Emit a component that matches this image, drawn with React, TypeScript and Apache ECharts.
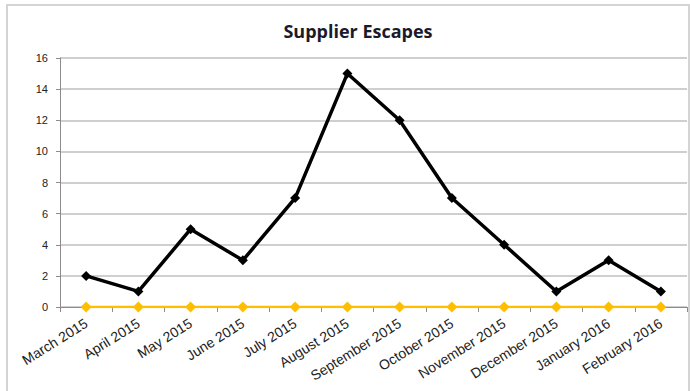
import React, { useEffect, useRef } from "react";
import * as echarts from "echarts";

const categories = [
  "March 2015", "April 2015", "May 2015", "June 2015", "July 2015", "August 2015",
  "September 2015", "October 2015", "November 2015", "December 2015", "January 2016", "February 2016",
];
const escapes = [2, 1, 5, 3, 7, 15, 12, 7, 4, 1, 3, 1];
const baseline = [0, 0, 0, 0, 0, 0, 0, 0, 0, 0, 0, 0];
const yTicks = { min: 0, max: 16, interval: 2 };

export default function App() {
  const ref = useRef<HTMLDivElement>(null);
  useEffect(() => {
    if (!ref.current) return;
    const chart = echarts.init(ref.current, null, { renderer: "svg" });
    chart.setOption({
      animation: false,
      backgroundColor: "#ffffff",
      title: {
        text: "Supplier Escapes",
        left: 353,
        textAlign: "center",
        top: 17,
        textStyle: { fontFamily: "Open Sans", fontSize: 18, fontWeight: "bold", color: "#1a1a2a" },
      },
      graphic: [
        {
          type: "rect",
          shape: { x: 7, y: 5, width: 682, height: 400 },
          style: { fill: "none", stroke: "#d4d4d4", lineWidth: 2 },
          silent: true,
        },
      ],
      grid: { left: 60, right: 3, top: 58, bottom: 84 },
      xAxis: {
        type: "category",
        data: categories,
        boundaryGap: true,
        axisLine: { lineStyle: { color: "#8c8c8c", width: 1 } },
        axisTick: { show: true, length: 5, interval: 0, lineStyle: { color: "#8c8c8c" } },
        axisLabel: {
          rotate: 32,
          interval: 0,
          margin: 15,
          fontFamily: "Liberation Sans",
          fontSize: 14,
          color: "#222",
        },
      },
      yAxis: {
        type: "value",
        min: yTicks.min,
        max: yTicks.max,
        interval: yTicks.interval,
        axisLine: { show: true, lineStyle: { color: "#8c8c8c", width: 1 } },
        axisTick: { show: true, length: 4, lineStyle: { color: "#8c8c8c" } },
        axisLabel: { fontFamily: "Liberation Sans", fontSize: 11, color: "#222", margin: 12 },
        splitLine: { show: true, lineStyle: { color: "#bfbfbf", width: 1.5 } },
      },
      series: [
        {
          name: "Baseline",
          type: "line",
          data: baseline,
          symbol: "diamond",
          symbolSize: 11,
          lineStyle: { color: "#ffbf00", width: 2.5 },
          itemStyle: { color: "#ffbf00" },
          z: 2,
        },
        {
          name: "Escapes",
          type: "line",
          data: escapes,
          symbol: "diamond",
          symbolSize: 10,
          lineStyle: { color: "#000000", width: 3.5 },
          itemStyle: { color: "#000000" },
          z: 3,
        },
      ],
    });
    return () => chart.dispose();
  }, []);
  return (
    <div
      ref={ref}
      style={{ position: "fixed", left: 0, top: 0, width: 690, height: 391 }}
    />
  );
}
